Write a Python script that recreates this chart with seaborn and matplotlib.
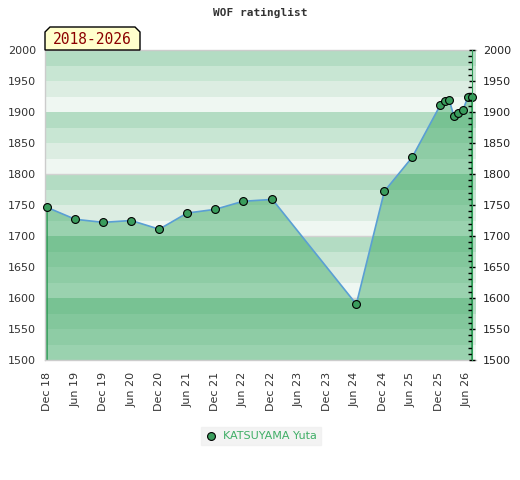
import matplotlib
matplotlib.use("Agg")

import matplotlib.dates as mdates
import matplotlib.pyplot as plt
import pandas as pd
import seaborn as sns
from matplotlib.patches import Polygon
from matplotlib.ticker import MultipleLocator

# Chart data
player = "KATSUYAMA Yuta"
period = "2018-2026"
list_dates = [
    "2018-12-01", "2019-06-01", "2019-12-01", "2020-06-01", "2020-12-01",
    "2021-06-01", "2021-12-01", "2022-06-01", "2022-12-10", "2024-06-10",
    "2024-12-10", "2025-06-10", "2025-12-10", "2026-01-10", "2026-02-07",
    "2026-03-10", "2026-04-07", "2026-05-07", "2026-06-10", "2026-07-07",
]
ratings = [
    1746, 1727, 1722, 1725, 1711,
    1737, 1743, 1756, 1759, 1590,
    1772, 1827, 1911, 1918, 1919,
    1893, 1899, 1903, 1925, 1925,
]

# Background band colours (top of each 100-block first)
band_light = ["#b3dcc3", "#c8e6d3", "#dcede2", "#eff7f2"]
band_dark = ["#78c293", "#83c79c", "#8ecca5", "#9ad2af"]

y_min, y_max = 1500, 2000

df = pd.DataFrame({"date": pd.to_datetime(list_dates), "rating": ratings})
first_date = df["date"].iloc[0]
last_date = df["date"].iloc[-1]

sns.set_style("white")
fig = plt.figure(figsize=(5.2, 4.8), dpi=100)
ax = fig.add_axes([0.0865, 0.25, 0.829, 0.6458])

# area under the rating line, used as clip path for the dark bands
fill = ax.fill_between(df["date"], df["rating"], y_min, facecolor="none", edgecolor="none")
fill_path = fill.get_paths()[0]

for lo in range(y_min, y_max, 25):
    idx = 3 - ((lo - y_min) // 25) % 4
    ax.axhspan(lo, lo + 25, color=band_light[idx], lw=0, zorder=0)
    dark = ax.axhspan(lo, lo + 25, color=band_dark[idx], lw=0, zorder=1)
    dark.set_clip_path(fill_path, ax.transData)

for v in [1600, 1700, 1800]:
    ax.axhline(v, color="#d2d2d2", lw=1, zorder=0.5)

ax.vlines([first_date, last_date], y_min, [ratings[0], ratings[-1]],
          color="#2e9a55", lw=1.2, zorder=2)

sns.lineplot(data=df, x="date", y="rating", color="#5a9fd4", lw=1.2,
             ax=ax, zorder=3, legend=False)
sns.scatterplot(data=df, x="date", y="rating", color="#3a9d5d", edgecolor="black",
                s=32, linewidth=0.8, zorder=4, label=player, ax=ax, clip_on=False)

ax.set_xlim(pd.Timestamp("2018-11-16"), pd.Timestamp("2026-08-01"))
ax.set_ylim(y_min, y_max)
ax.set_xlabel("")
ax.set_ylabel("")

ax.xaxis.set_major_locator(mdates.MonthLocator(bymonth=[6, 12]))
ax.xaxis.set_major_formatter(mdates.DateFormatter("%b %y"))
ax.tick_params(axis="x", length=0, pad=8.5, labelsize=8, labelcolor="#333333", rotation=90)
ax.set_yticks(range(y_min, y_max + 1, 50))
ax.tick_params(axis="y", length=0, pad=6.5, labelsize=8, labelcolor="#333333")

for side in ["left", "top", "bottom"]:
    ax.spines[side].set_color("#cccccc")
    ax.spines[side].set_linewidth(1)
ax.spines["right"].set_visible(False)

# right-hand axis sits on the last rating date
ax2 = ax.twinx()
ax2.set_ylim(y_min, y_max)
ax2.yaxis.set_major_locator(MultipleLocator(50))
ax2.yaxis.set_minor_locator(MultipleLocator(10))
ax2.spines["right"].set_position(("data", mdates.date2num(last_date)))
ax2.spines["right"].set_color("#2e9a55")
for side in ["left", "top", "bottom"]:
    ax2.spines[side].set_visible(False)
ax2.tick_params(axis="y", which="major", direction="inout", length=5, width=1,
                color="black", pad=5, labelsize=8, labelcolor="#222222")
ax2.tick_params(axis="y", which="minor", direction="in", length=3, width=1, color="black")

# title and period label
fig.text(0.5, 1 - 13 / 480, "WOF ratinglist", ha="center", va="center",
         family="DejaVu Sans Mono", weight="bold", size=8, color="#333333")

box_px = [(45, 50), (45, 32), (50, 27), (135, 27), (140, 32), (140, 50)]
box = Polygon([(x / 520, 1 - y / 480) for x, y in box_px], closed=True,
              facecolor="#ffffcc", edgecolor="black", lw=1, transform=fig.transFigure)
fig.patches.append(box)
fig.text(92.5 / 520, 1 - 39 / 480, period, ha="center", va="center",
         family="DejaVu Sans Mono", size=10.5, color="#8b0000")

# legend below the chart
handles, labels = ax.get_legend_handles_labels()
ax.get_legend().remove()
fig.legend(handles, labels, loc="center", bbox_to_anchor=(261 / 520, 1 - 436 / 480),
           frameon=True, facecolor="#f0f0f0", edgecolor="#f0f0f0", fancybox=False,
           fontsize=8, labelcolor="#3fae66", handletextpad=0.6, borderpad=0.35,
           handlelength=1.0)

fig.savefig("out.png", dpi=100)
plt.close(fig)
